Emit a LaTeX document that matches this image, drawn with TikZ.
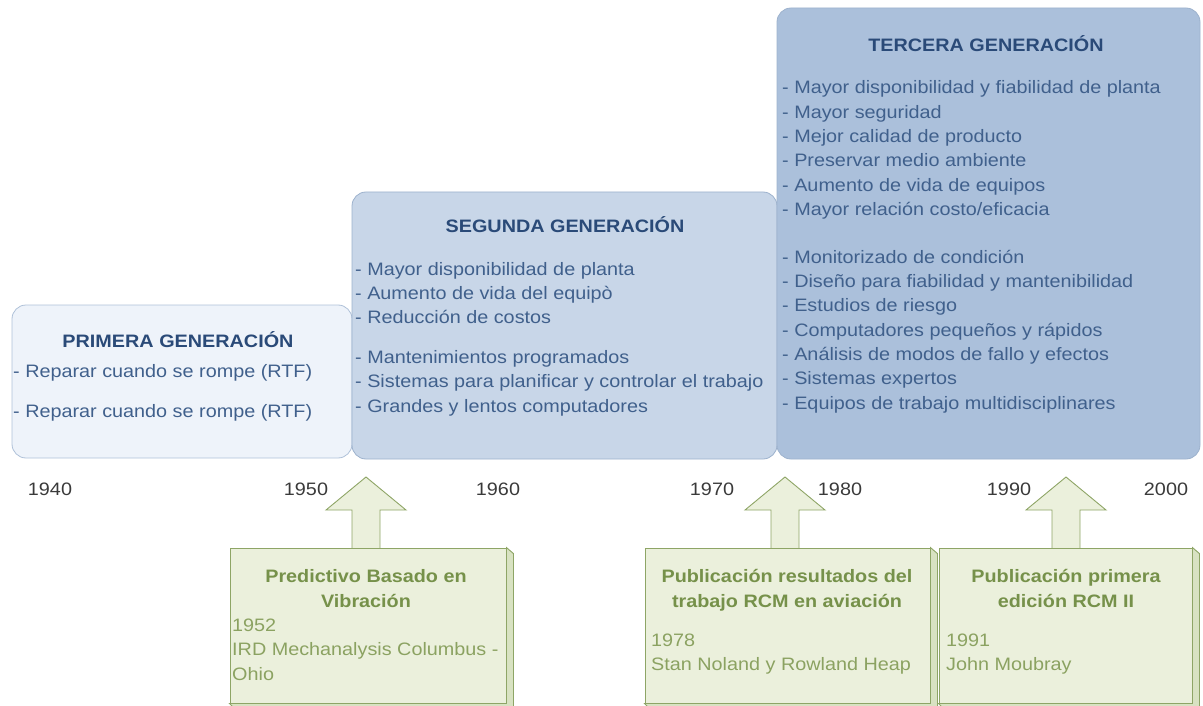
\documentclass[tikz,border=0pt]{standalone}
\usepackage{fontspec}
\setmainfont[FakeStretch=1.1]{Liberation Sans}
\usetikzlibrary{calc}

\definecolor{genfillA}{HTML}{EEF3FA}
\definecolor{genfillB}{HTML}{C8D6E8}
\definecolor{genfillC}{HTML}{ABC0DB}
\definecolor{genlineA}{HTML}{AFC1D8}
\definecolor{genline}{HTML}{9DB2CD}
\definecolor{titleblue}{HTML}{2A4A78}
\definecolor{itemblue}{HTML}{40608C}
\definecolor{pubfill}{HTML}{EBF0DC}
\definecolor{publine}{HTML}{8EA566}
\definecolor{pubside}{HTML}{D8E2C2}
\definecolor{pubtitle}{HTML}{76914A}
\definecolor{pubtext}{HTML}{8BA261}
\definecolor{yeargray}{HTML}{3A3A3A}

\tikzset{
 genbox/.style={draw=genline,rounded corners=14pt,line width=0.8pt},
 gentitle/.style={anchor=base,inner sep=0pt,text=titleblue,font=\bfseries\fontsize{18}{24}\selectfont},
 genitem/.style={anchor=base west,align=left,inner sep=0pt,text=itemblue,font=\fontsize{18}{24.3}\selectfont},
 pubbox/.style={draw=publine,fill=pubfill,line width=0.9pt},
 pubtitle/.style={anchor=base,align=center,inner sep=0pt,text=pubtitle,font=\bfseries\fontsize{18}{25}\selectfont},
 pubitem/.style={anchor=base west,align=left,inner sep=0pt,text=pubtext,font=\fontsize{18}{24.5}\selectfont},
 bevel/.style={draw=publine,fill=pubside,line width=0.9pt},
 yearlabel/.style={anchor=base,inner sep=0pt,text=yeargray,font=\fontsize{18}{22}\selectfont},
 blockup/.pic={\draw [pubbox] (-14,0) -- (-14,-38) -- (-40,-38) -- (0,-71) -- (40,-38) -- (14,-38) -- (14,0);}
}

\begin{document}
\begin{tikzpicture}[x=1pt,y=-1pt,line join=miter]
 \useasboundingbox (0,0) rectangle (1203,706);

 \node (gen_1) at (182,381.5) [genbox,draw=genlineA,fill=genfillA,minimum width=340,minimum height=153] {};
 \node (gen_2) at (564.5,325.5) [genbox,fill=genfillB,minimum width=425,minimum height=267] {};
 \node (gen_3) at (988.5,233.5) [genbox,fill=genfillC,minimum width=423,minimum height=451] {};

 \node (gen_1_title) at (178,347) [gentitle] {PRIMERA GENERACIÓN};
 \node (gen_1_items) at (13,417) [genitem] {- Reparar cuando se rompe (RTF)\\[15.7pt]- Reparar cuando se rompe (RTF)};

 \node (gen_2_title) at (565,233) [gentitle] {SEGUNDA GENERACIÓN};
 \node (gen_2_items) at (355,412) [genitem] {- Mayor disponibilidad de planta\\- Aumento de vida del equipò\\- Reducción de costos\\[15.5pt]- Mantenimientos programados\\- Sistemas para planificar y controlar el trabajo\\- Grandes y lentos computadores};

 \node (gen_3_title) at (986,52) [gentitle] {TERCERA GENERACIÓN};
 \node (gen_3_items) at (782,409) [genitem] {- Mayor disponibilidad y fiabilidad de planta\\- Mayor seguridad\\- Mejor calidad de producto\\- Preservar medio ambiente\\- Aumento de vida de equipos\\- Mayor relación costo/eficacia\\[23.5pt]- Monitorizado de condición\\- Diseño para fiabilidad y mantenibilidad\\- Estudios de riesgo\\- Computadores pequeños y rápidos\\- Análisis de modos de fallo y efectos\\- Sistemas expertos\\- Equipos de trabajo multidisciplinares};

 \foreach \yr/\xx in {1940/50,1950/306,1960/498,1970/712,1980/840,1990/1009,2000/1166}
  \node (year_\yr) at (\xx,495) [yearlabel] {\yr};

 \pic at (366,548) {blockup};
 \pic at (785,548) {blockup};
 \pic at (1066,548) {blockup};

 \node (pub_1) at (368,625.5) [pubbox,minimum width=276,minimum height=155] {};
 \node (pub_2) at (787.5,625.5) [pubbox,minimum width=285,minimum height=155] {};
 \node (pub_3) at (1065.5,625.5) [pubbox,minimum width=253,minimum height=155] {};

 \foreach \b in {pub_1,pub_2,pub_3}
  \draw [bevel] (\b.north east) -- ++(7,6) -- ($(\b.south east)+(7,3)$) -- ($(\b.south west)+(3,3)$) -- (\b.south west) -- (\b.south east) -- cycle;

 \node (pub_1_title) at (366,607) [pubtitle] {Predictivo Basado en\\Vibración};
 \node (pub_1_text) at (232,680) [pubitem] {1952\\IRD Mechanalysis Columbus -\\Ohio};

 \node (pub_2_title) at (787,607) [pubtitle] {Publicación resultados del\\trabajo RCM en aviación};
 \node (pub_2_text) at (651,670.5) [pubitem] {1978\\Stan Noland y Rowland Heap};

 \node (pub_3_title) at (1066,607) [pubtitle] {Publicación primera\\edición RCM II};
 \node (pub_3_text) at (946,670.5) [pubitem] {1991\\John Moubray};

\end{tikzpicture}
\end{document}
